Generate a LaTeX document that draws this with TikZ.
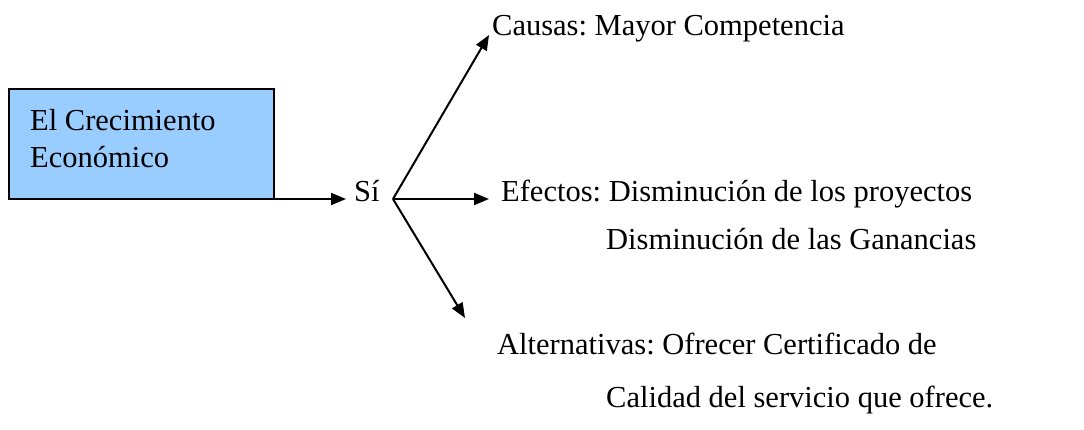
\documentclass[tikz,border=0pt]{standalone}
\usepackage{fontspec}
\setmainfont{Liberation Serif}
\usepackage{tikz}
\usetikzlibrary{arrows.meta}
\definecolor{celeste}{HTML}{99CCFF}
\tikzset{
    testo/.style = {anchor = base west, inner sep = 0pt, font = \fontsize{30.5}{37}\selectfont},
    freccia/.style = {line width = 2pt, -{Triangle[length = 15pt, width = 12pt]}},
}

\begin{document}
\frenchspacing
\begin{tikzpicture}[x = 1pt, y = -1pt]
    \useasboundingbox (0,0) rectangle (1084,430);
    % Riquadro
    \node[draw, line width = 1.8pt, fill = celeste, anchor = north west, minimum width = 265pt, minimum height = 110pt, inner sep = 0pt, outer sep = 0pt] (caja) at (9,89) {};
    \node[anchor = north west, inner sep = 0pt, align = left, font = \fontsize{30.5}{37}\selectfont] (cajatexto) at (30,109.5) {El Crecimiento\\Económico};
    % Testi
    \node[testo] (si) at (354,202) {Sí};
    \node[testo] (causas) at (492,36) {Causas: Mayor Competencia};
    \node[testo] (efectos) at (501,202) {Efectos: Disminución de los proyectos};
    \node[testo] (efectos2) at (606,250) {Disminución de las Ganancias};
    \node[testo] (alternativas) at (497,354) {Alternativas: Ofrecer Certificado de};
    \node[testo] (alternativas2) at (606,407) {Calidad del servicio que ofrece.};
    % Punti d'interesse
    \coordinate (sientra) at (346,199);
    \coordinate (abanico) at (393,199);
    \coordinate (puntaA) at (489,35);
    \coordinate (puntaB) at (489,199);
    \coordinate (puntaC) at (465,318);
    % Frecce
    \draw[freccia] (caja.south east) -- (sientra);
    \draw[freccia] (abanico) -- (puntaA);
    \draw[freccia] (abanico) -- (puntaB);
    \draw[freccia] (abanico) -- (puntaC);
\end{tikzpicture}
\end{document}
